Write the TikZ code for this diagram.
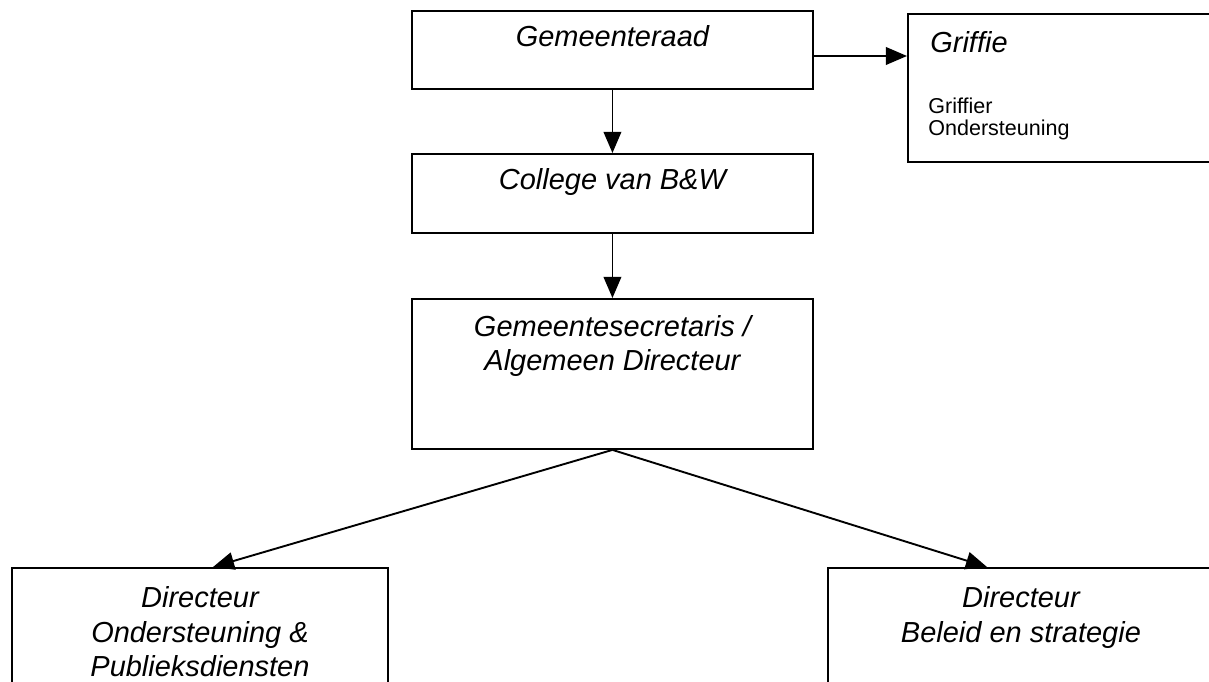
\documentclass[tikz,border=0pt]{standalone}
\usepackage{fontspec}
\setmainfont{Liberation Sans}
\usetikzlibrary{calc}
\usetikzlibrary{arrows.meta}
\usetikzlibrary{positioning}

\begin{document}
\begin{tikzpicture}[
    x=0.025cm, y=-0.025cm,
    >={Triangle[length=15pt, width=12.5pt]},
    box/.style={draw, line width=1.35pt, anchor=north west, inner sep=0pt},
    lbl/.style={font=\fontsize{20.6}{24.5}\selectfont\itshape, align=center,
                inner sep=0pt, anchor=north},
    small/.style={font=\fontsize{15.3}{15.5}\selectfont, align=left,
                  inner sep=0pt, anchor=north west},
    link/.style={->, line width=1.35pt},
]

% ── Page: 1209 x 682 px, y runs down ──
\def\px{0.025cm}  % one pixel
\useasboundingbox (0,0) rectangle (1209,682);

% ── Boxes ──
\node[box, minimum width=401*\px, minimum height=78*\px]  (raad)    at (411,10)  {};
\node[box, minimum width=330*\px, minimum height=148*\px] (griffie) at (907,13)  {};
\node[box, minimum width=401*\px, minimum height=79*\px]  (college) at (411,153) {};
\node[box, minimum width=401*\px, minimum height=150*\px] (secr)    at (411,298) {};
\node[box, minimum width=376*\px, minimum height=140*\px] (ops)     at (11,567)  {};
\node[box, minimum width=386*\px, minimum height=140*\px] (bes)     at (827,567) {};

% ── Texts, hung from the top of each box ──
\node[lbl, below=10.5pt of raad.north]    (raad-t)    {Gemeenteraad};
\node[lbl, below=10.5pt of college.north] (college-t) {College van B\&W};
\node[lbl, below=12pt of secr.north]    (secr-t)    {Gemeentesecretaris /\\Algemeen Directeur};
\node[lbl, below=14pt of ops.north]     (ops-t)     {Directeur\\Ondersteuning \&\\Publieksdiensten};
\node[lbl, below=14pt of bes.north]     (bes-t)     {Directeur\\Beleid en strategie};

\node[lbl, below right=13pt and 16.4pt of griffie.north west] (griffie-t) {Griffie};
\node[small, below right=60pt and 15pt of griffie.north west] (griffie-s) {Griffier\\Ondersteuning};

% ── Lines of authority ──
\draw[link] (raad) -- (college);
\draw[link] (college) -- (secr);
\draw[link] ([yshift=-4.3pt]raad.east) -- ([yshift=-4.3pt]raad.east -| griffie.west);
\draw[link] (secr.south) -- ($(ops.north west)+(202,0)$);
\draw[link] (secr.south) -- ($(bes.north west)+(160,0)$);

\end{tikzpicture}
\end{document}
